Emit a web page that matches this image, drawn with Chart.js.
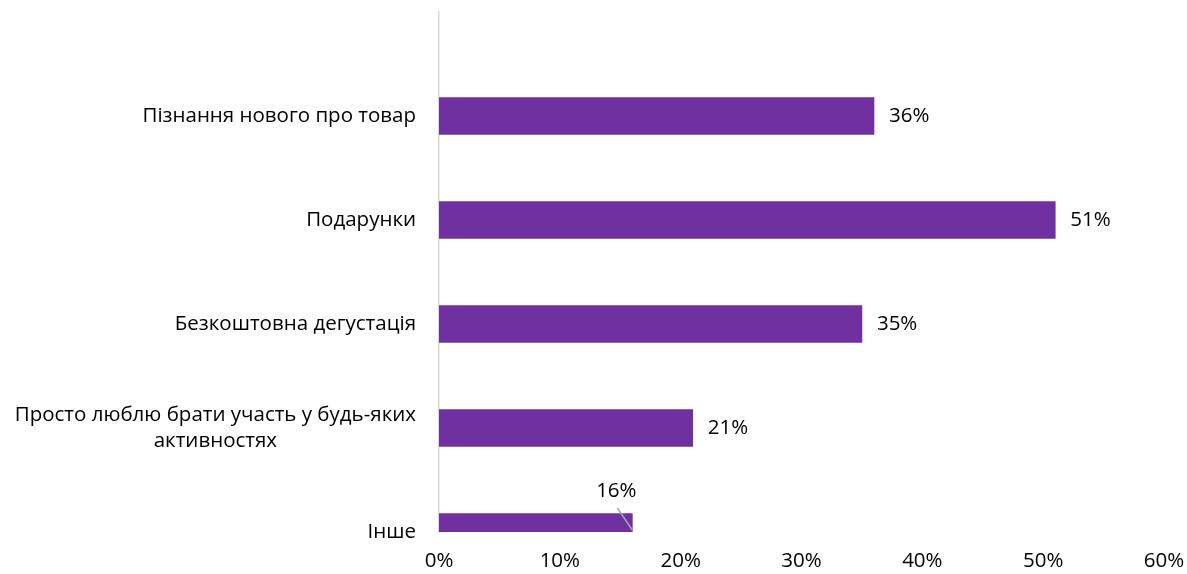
<!DOCTYPE html>
<html>
<head>
<meta charset="utf-8">
<script src="https://cdn.jsdelivr.net/npm/chart.js@4"></script>
<style>
  html, body { margin: 0; padding: 0; background: #fff; overflow: hidden; }
  canvas { display: block; }
</style>
</head>
<body>
<canvas id="myChart" width="1187" height="574"></canvas>
<script>
// categories, top to bottom
const categories = [
  'Пізнання нового про товар',
  'Подарунки',
  'Безкоштовна дегустація',
  ['Просто люблю брати участь у будь-яких', 'активностях'],
  'Інше'
];
const values = [36, 51, 35, 21, 16];
const tickValues = [0, 10, 20, 30, 40, 50, 60];

const FONT = '"Open Sans", "Noto Sans", sans-serif';
const FSIZE = 20.5;
const PURPLE = '#7030A0';

// excel leaves an empty slot above the first bar
const labels = [''].concat(categories);
const data = [null].concat(values);

// category names drawn by hand so wrapped lines are centred like excel
const categoryLabels = {
  id: 'categoryLabels',
  afterDraw(chart) {
    const ctx = chart.ctx;
    const y = chart.scales.y;
    const right = chart.chartArea.left - 23;
    ctx.save();
    ctx.font = FSIZE + 'px ' + FONT;
    ctx.fillStyle = '#000';
    ctx.textBaseline = 'middle';
    labels.forEach((lab, i) => {
      if (!lab) return;
      const cy = y.getPixelForValue(i);
      const lines = Array.isArray(lab) ? lab : [lab];
      const lh = 26;
      const w = Math.max(...lines.map(l => ctx.measureText(l).width));
      ctx.textAlign = 'center';
      lines.forEach((l, k) => {
        const ly = cy + (k - (lines.length - 1) / 2) * lh;
        ctx.fillText(l, right - w / 2, ly);
      });
    });
    ctx.restore();
  }
};

// value labels; the last one sits above the bar with a leader line
const valueLabels = {
  id: 'valueLabels',
  afterDatasetsDraw(chart) {
    const ctx = chart.ctx;
    const meta = chart.getDatasetMeta(0);
    ctx.save();
    ctx.font = FSIZE + 'px ' + FONT;
    ctx.fillStyle = '#000';
    ctx.textBaseline = 'middle';
    meta.data.forEach((bar, i) => {
      const v = data[i];
      if (v == null) return;
      const txt = v + '%';
      if (i === data.length - 1) {
        ctx.textAlign = 'center';
        ctx.fillText(txt, bar.x - 16, bar.y - 41);
        ctx.strokeStyle = '#a6a6a6';
        ctx.lineWidth = 1.5;
        ctx.beginPath();
        ctx.moveTo(bar.x - 15, bar.y - 24);
        ctx.lineTo(bar.x, bar.y - 2);
        ctx.stroke();
      } else {
        ctx.textAlign = 'left';
        ctx.fillText(txt, bar.x + 15, bar.y);
      }
    });
    ctx.restore();
  }
};

const config = {
  type: 'bar',
  data: {
    labels: labels,
    datasets: [{
      data: data,
      backgroundColor: PURPLE,
      borderWidth: 0,
      barThickness: 37
    }]
  },
  options: {
    indexAxis: 'y',
    responsive: false,
    animation: false,
    layout: {
      padding: {left: 439, right: 23, top: 12, bottom: 0}
    },
    plugins: {
      legend: {display: false},
      tooltip: {enabled: false},
      title: {display: false}
    },
    scales: {
      x: {
        min: 0,
        max: 60,
        afterBuildTicks(scale) {
          scale.ticks = tickValues.map(v => ({value: v}));
        },
        afterFit(scale) {
          // tick padding would otherwise leak into the side overhang
          scale.height = 42;
          scale.paddingLeft = 0;
          scale.paddingRight = 0;
        },
        grid: {display: false, drawTicks: false},
        border: {display: false},
        ticks: {
          padding: 17,
          maxRotation: 0,
          color: '#000',
          font: {family: FONT, size: FSIZE},
          callback: v => v + '%'
        }
      },
      y: {
        type: 'category',
        offset: false,
        grid: {display: false, drawTicks: false},
        border: {display: true, color: '#d9d9d9', width: 1.5},
        ticks: {display: false}
      }
    }
  },
  plugins: [categoryLabels, valueLabels]
};

const myChart = new Chart(document.getElementById('myChart'), config);
</script>
</body>
</html>
